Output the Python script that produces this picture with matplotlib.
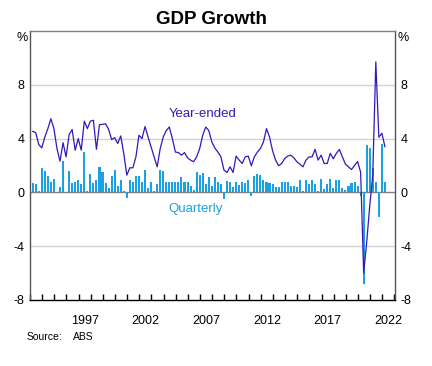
import matplotlib
matplotlib.use('Agg')
import matplotlib.pyplot as plt
import numpy as np

plt.rcParams['font.family'] = ['Liberation Sans', 'DejaVu Sans']
plt.rcParams['axes.unicode_minus'] = False

start_year = 1993  # first quarter is March 1993

# quarterly growth, %, Q1..Q4 each year
quarterly = [
    0.67, 0.6, 0.1, 1.8,      # 1993
    1.6, 1.2, 0.8, 1.0,       # 1994
    0.05, 0.4, 2.3, 0.05,     # 1995
    1.6, 0.7, 0.8, 0.9,       # 1996
    0.65, 3.0, 0.1, 1.4,      # 1997
    0.7, 0.9, 1.9, 1.5,       # 1998
    0.7, 0.3, 1.2, 1.7,       # 1999
    0.5, 0.9, 0.1, -0.45,     # 2000
    0.95, 0.8, 1.2, 1.2,      # 2001
    0.8, 1.7, 0.3, 0.8,       # 2002
    0.1, 0.6, 1.7, 1.6,       # 2003
    0.8, 0.8, 0.8, 0.8,       # 2004
    0.8, 1.15, 0.8, 0.75,     # 2005
    0.45, 0.2, 1.5, 1.3,      # 2006
    1.45, 0.65, 1.15, 0.45,   # 2007
    1.15, 0.75, 0.65, -0.5,   # 2008
    0.85, 0.8, 0.4, 0.75,     # 2009
    0.55, 0.75, 0.7, 0.9,     # 2010
    -0.3, 1.2, 1.4, 1.3,      # 2011
    0.9, 0.8, 0.7, 0.6,       # 2012
    0.4, 0.4, 0.8, 0.8,       # 2013
    0.8, 0.5, 0.5, 0.4,       # 2014
    0.9, 0.1, 0.95, 0.6,      # 2015
    0.9, 0.65, 0.1, 1.0,      # 2016
    0.25, 0.65, 1.0, 0.3,     # 2017
    0.9, 0.9, 0.35, 0.15,     # 2018
    0.45, 0.7, 0.75, 0.45,    # 2019
    -0.3, -6.8, 3.5, 3.3,     # 2020
    1.85, 0.8, -1.85, 3.6,    # 2021
    0.8,                      # 2022
]

# year-ended growth, %
year_ended = [
    4.54, 4.44, 3.56, 3.31,
    4.12, 4.74, 5.48, 4.74,
    3.26, 2.32, 3.7, 2.64,
    4.3, 4.67, 3.14, 4.0,
    3.14, 5.3, 4.74, 5.3,
    5.36, 3.2, 5.04, 5.06,
    5.1, 4.7, 3.93, 4.07,
    3.63, 4.2, 2.89, 1.28,
    1.83, 1.83, 2.64, 4.25,
    4.0, 4.9, 4.12, 3.38,
    2.64, 1.9, 3.26, 4.12,
    4.6, 4.86, 4.0, 3.0,
    2.96, 2.77, 2.96, 2.57,
    2.4, 2.28, 2.64, 3.26,
    4.25, 4.86, 4.6, 3.75,
    3.3, 3.0, 2.64, 1.65,
    1.48, 1.9, 1.48, 2.7,
    2.4, 2.15, 2.64, 2.7,
    1.98, 2.64, 3.0, 3.26,
    3.75, 4.74, 4.12, 3.1,
    2.4, 1.98, 2.15, 2.52,
    2.7, 2.77, 2.57, 2.28,
    2.1, 1.9, 2.4, 2.64,
    2.64, 3.2, 2.4, 2.77,
    2.15, 2.15, 2.9, 2.5,
    2.9, 3.2, 2.64, 2.1,
    1.9, 1.7, 2.0, 2.3,
    1.5, -6.0, -3.7, -1.0,
    1.3, 9.7, 4.1, 4.4,
    3.4,
]

label_years = [1997, 2002, 2007, 2012, 2017, 2022]
y_ticks = [-8, -4, 0, 4, 8]

line_col = '#3517b8'
bar_col = '#1ba1e2'

# quarter dates as decimal years (plotted in the last month of each quarter)
t = start_year + np.arange(len(quarterly)) * 0.25 + 0.22

fig = plt.figure(figsize=(4.32, 3.66), dpi=100)
ax = fig.add_axes([30/432, 66/366, 365/432, 269/366])

for y in [-4, 4, 8]:
    ax.axhline(y, color='#d4d4d4', lw=1, zorder=0)
ax.axhline(0, color='#808080', lw=1, zorder=1)

ax.bar(t, quarterly, width=0.17, color=bar_col, zorder=2)
ax.plot(t, year_ended, color=line_col, lw=0.9, zorder=3)

ax.set_xlim(1993, 2023.05)
ax.set_ylim(-8, 12)

ax.set_yticks(y_ticks)
ax.set_yticklabels([str(v) for v in y_ticks])
ax.tick_params(axis='y', length=0, labelsize=9, pad=4,
               left=False, right=False, labelleft=True, labelright=True)

ax.set_xticks(range(1993, 2024))
ax.set_xticklabels([])
ax.tick_params(axis='x', which='major', direction='in', length=4, width=1, color='black')
ax.set_xticks([y + 0.5 for y in label_years], minor=True)
ax.set_xticklabels([str(y) for y in label_years], minor=True)
ax.tick_params(axis='x', which='minor', length=0, labelsize=9, pad=11)

ax.spines['top'].set_color('#808080')
ax.spines['left'].set_color('#555555')
ax.spines['right'].set_color('#555555')
ax.spines['bottom'].set_color('black')
for s in ax.spines.values():
    s.set_linewidth(1)

ax.text(2007.25, 5.84, 'Year-ended', color=line_col, fontsize=9.5, ha='center', va='center')
ax.text(2006.6, -1.23, 'Quarterly', color=bar_col, fontsize=9.5, ha='center', va='center')

fig.text(22/432, 1 - 38/366, '%', fontsize=9, ha='center', va='center')
fig.text(403/432, 1 - 38/366, '%', fontsize=9, ha='center', va='center')
fig.text(211/432, 1 - 19/366, 'GDP Growth', fontsize=13.5, fontweight='bold', ha='center', va='center')
fig.text(27/432, 1 - 337/366, 'Source:', fontsize=7.5, ha='left', va='center')
fig.text(73/432, 1 - 337/366, 'ABS', fontsize=7.5, ha='left', va='center')

fig.savefig('out.png', dpi=100)
